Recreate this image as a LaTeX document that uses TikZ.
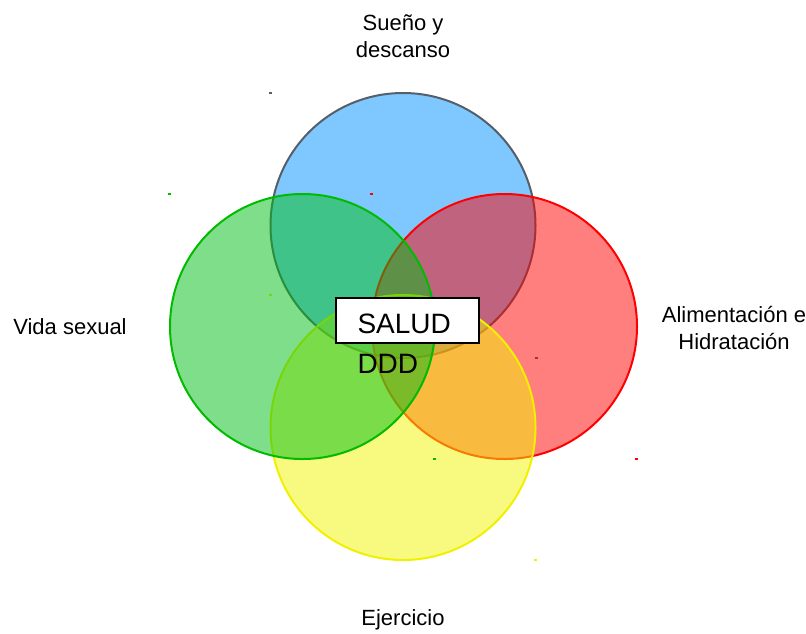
\documentclass[tikz,border=0pt]{standalone}
\usepackage{fontspec}
\setmainfont{Liberation Sans}

\definecolor{suenofill}{RGB}{0,145,255}
\definecolor{suenoline}{RGB}{85,95,105}
\definecolor{vidafill}{RGB}{0,190,20}
\definecolor{vidaline}{RGB}{0,187,0}
\definecolor{alimfill}{RGB}{255,0,0}
\definecolor{alimline}{RGB}{255,0,0}
\definecolor{ejerfill}{RGB}{242,245,0}
\definecolor{ejerline}{RGB}{240,240,0}

\tikzset{every picture/.style={line width=0.75pt}}
\tikzset{
  venn/.style={line width=1.5pt, fill opacity=0.5},
  lbltext/.style={align=center, inner sep=0.75pt, font=\fontsize{16.5}{20.25}\selectfont},
  saludtext/.style={anchor=base west, inner sep=0pt, font=\fontsize{21}{30}\selectfont}
}

\begin{document}
\begin{tikzpicture}[x=0.75pt,y=0.75pt,yscale=-1,xscale=1]
\useasboundingbox (0,0) rectangle (806,633);

%Shape: Circle [id:sueno]
\draw [venn, color=suenoline, fill=suenofill] (403,225.5) circle (132.5);
\fill [suenoline] (269,92) rectangle ++(3,2);
\fill [suenoline] (535,357) rectangle ++(3,2);
%Shape: Circle [id:alim]
\draw [venn, color=alimline, fill=alimfill] (504.5,326.5) circle (132.5);
\fill [alimline] (370,193) rectangle ++(3,2);
\fill [alimline] (635,458) rectangle ++(3,2);
%Shape: Circle [id:ejer]
\draw [venn, color=ejerline, fill=ejerfill] (403,427.5) circle (132.5);
\fill [ejerline] (269,294) rectangle ++(3,2);
\fill [ejerline] (534,559) rectangle ++(3,2);
%Shape: Circle [id:vida]
\draw [venn, color=vidaline, fill=vidafill] (302.5,326.5) circle (132.5);
\fill [vidaline] (168,193) rectangle ++(3,2);
\fill [vidaline] (433,458) rectangle ++(3,2);

%Shape: Rectangle [id:box]
\draw (407.5,320.5) node [draw, fill=white, line width=1.5pt, minimum width=107.25pt, minimum height=33.75pt] (box) {};

% Text Node
\draw (357,333) node [saludtext] (salud) {SALUD};
% Text Node
\draw (357,373) node [saludtext] (ddd) {DDD};
% Text Node
\draw (403,36) node [lbltext] (sueno) {Sueño y\\descanso};
% Text Node
\draw (70,327) node [lbltext] (vida) {Vida sexual};
% Text Node
\draw (734,328) node [lbltext] (alim) {Alimentación e\\Hidratación};
% Text Node
\draw (403,620) node [lbltext] (ejer) {Ejercicio};

\end{tikzpicture}
\end{document}
